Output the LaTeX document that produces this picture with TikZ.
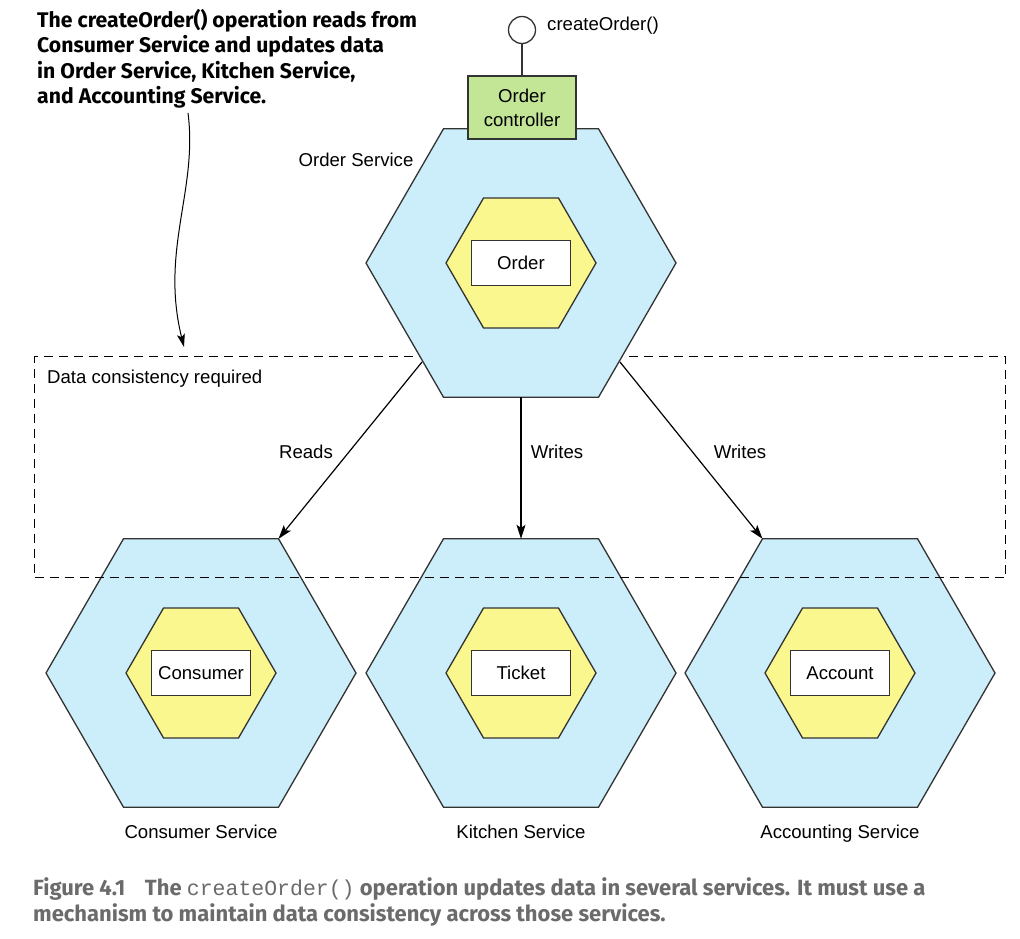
\documentclass[tikz,border=0pt]{standalone}
\usepackage{fontspec}
\setmainfont{Liberation Sans}
\newfontfamily\annfont{Fira Sans}
\newfontfamily\capfont{Fira Sans}
\newfontfamily\capmono{Liberation Mono}
\usetikzlibrary{shapes.geometric,arrows.meta,calc}
\definecolor{hexblue}{HTML}{CBEEFA}
\definecolor{hexyellow}{HTML}{F9F78E}
\definecolor{ctrlgreen}{HTML}{C2E596}
\definecolor{capgray}{HTML}{6B6B6B}
\definecolor{edgec}{HTML}{333333}
\begin{document}
\begin{tikzpicture}[x=1pt,y=-1pt,
  txt/.style={font=\fontsize{18.6}{24}\selectfont, inner sep=0pt},
  outerhex/.style={regular polygon, regular polygon sides=6, minimum size=310pt, inner sep=0pt, outer sep=0pt, fill=hexblue, draw=edgec, line width=1.3pt},
  innerhex/.style={regular polygon, regular polygon sides=6, minimum size=150pt, inner sep=0pt, outer sep=0pt, fill=hexyellow, draw=edgec, line width=1.3pt},
  entity/.style={rectangle, minimum width=99pt, minimum height=45pt, fill=white, draw=edgec, line width=1.3pt, txt},
  conn/.style={line width=1.2pt, -{Stealth[length=14pt,width=9pt,inset=3pt]}},
  lbl/.style={txt, text height=17pt, text depth=4pt}]
\fill[white] (0,0) rectangle (1020,939);
\useasboundingbox (0,0) rectangle (1020,939);

% bottom services
\node[outerhex] (cs) at (201,673) {};
\node[innerhex] (csin) at (cs.center) {};
\node[entity] (consumer) at (cs.center) {Consumer};
\node[lbl] (cslbl) at (201,832) {Consumer Service};

\node[outerhex] (ks) at (521,673) {};
\node[innerhex] (ksin) at (ks.center) {};
\node[entity] (ticket) at (ks.center) {Ticket};
\node[lbl] (kslbl) at (521,832) {Kitchen Service};

\node[outerhex] (as) at (840,673) {};
\node[innerhex] (asin) at (as.center) {};
\node[entity] (account) at (as.center) {Account};
\node[lbl] (aslbl) at (840,832) {Accounting Service};

% consistency region
\node[draw=black, line width=1.2pt, dash pattern=on 9pt off 6pt, minimum width=971pt, minimum height=221pt, inner sep=0pt, anchor=north west] (dc) at (34,356) {};
\node[lbl, anchor=west] (dclbl) at (47,377) {Data consistency required};

% order service
\node[outerhex] (os) at (521,263) {};
\node[innerhex] (osin) at (os.center) {};
\node[entity] (order) at (os.center) {Order};
\node[lbl] (oslbl) at (356,160) {Order Service};

\node[draw=edgec, fill=ctrlgreen, line width=1.3pt, minimum width=108pt, minimum height=63pt, align=center, txt] (ctrl) at (522,107.5) {Order\\controller};
\node[circle, draw=edgec, fill=white, line width=1.3pt, minimum size=27pt, inner sep=0pt] (ep) at (522,30) {};
\draw[line width=1.3pt, edgec] (ep) -- (ctrl);
\node[lbl, anchor=west] (eplbl) at (547,24) {createOrder()};

% connectors
\draw[conn] ($(os.center)+(-99,99)$) -- ($(cs.center)+(77.5,-134.2)$);
\draw[conn] ($(os.center)+(0,134.2)$) -- ($(ks.center)+(0,-134.2)$);
\draw[conn] ($(os.center)+(99,99)$) -- ($(as.center)+(-77.5,-134.2)$);
\node[lbl] (reads) at (306,452) {Reads};
\node[lbl] (writes1) at (557,452) {Writes};
\node[lbl] (writes2) at (740,452) {Writes};

% annotation
\node[anchor=north west, align=left, inner sep=0pt, font=\annfont\bfseries\fontsize{21.2}{25.3}\selectfont] (ann) at (37,9) {The createOrder() operation reads from\\Consumer Service and updates data\\in Order Service, Kitchen Service,\\and Accounting Service.};
\coordinate (annstart) at (188,113);
\coordinate (annend) at (184,347);
\draw[line width=1pt, -{Stealth[length=13pt,width=8pt,inset=3pt]}] (annstart) .. controls (198,190) and (160,250) .. (annend);

% caption
\node[anchor=north west, align=left, inner sep=0pt, text=capgray, font=\capfont\bfseries\fontsize{22}{26}\selectfont] (cap) at (33,877) {Figure 4.1\hspace{0.9em}The {\capmono\mdseries\fontsize{21.5}{26}\selectfont createOrder()} operation updates data in several services. It must use a\\mechanism to maintain data consistency across those services.};
\end{tikzpicture}
\end{document}
